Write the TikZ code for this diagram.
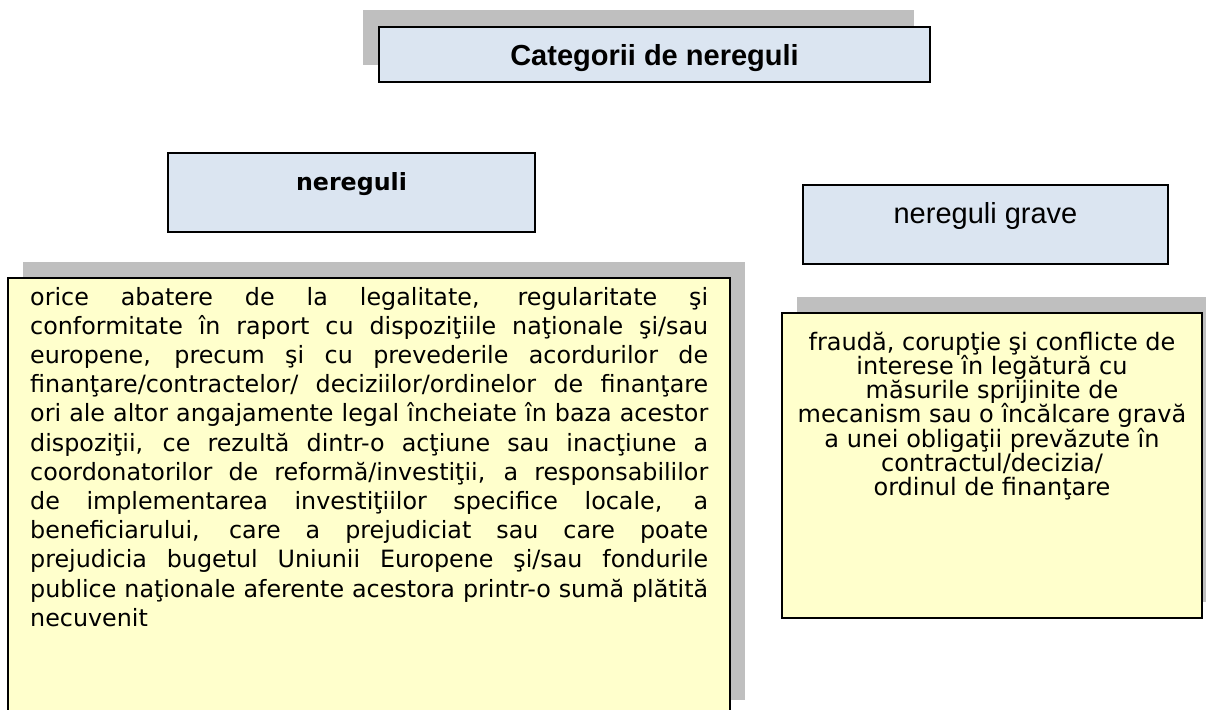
\documentclass[tikz,border=0pt]{standalone}
\usepackage{fontspec}
\setmainfont{Liberation Sans}
\newfontfamily\tah{DejaVu Sans}
\usetikzlibrary{shadows}
\definecolor{boxblue}{HTML}{DBE5F1}
\definecolor{boxyellow}{HTML}{FFFFCC}
\definecolor{shgray}{HTML}{BFBFBF}
\tikzset{
  bluebox/.style={draw=black, line width=1.6pt, fill=boxblue, inner sep=0pt},
  yellowbox/.style={draw=black, line width=1.8pt, fill=boxyellow, inner sep=0pt},
  shadowUL/.style={general shadow={fill=shgray, shadow xshift=-16pt, shadow yshift=17pt}},
  shadowUR/.style={general shadow={fill=shgray, shadow xshift=15pt, shadow yshift=16pt}},
  lbl/.style={inner sep=0pt, anchor=base}
}
\begin{document}
\begin{tikzpicture}[x=1pt,y=-1pt]
\clip (0,0) rectangle (1206,709);
\fill[white] (0,0) rectangle (1206,709);
% title
\node[bluebox, shadowUL, minimum width=551pt, minimum height=55pt] (title) at (654.5,54.5) {};
\node[lbl] (titletxt) at (654.5,65) {\fontsize{29}{32}\selectfont\bfseries Categorii de nereguli};
% nereguli
\node[bluebox, minimum width=367pt, minimum height=79pt] (ner) at (351.5,192.5) {};
\node[lbl] (nertxt) at (351.5,190) {\tah\bfseries\fontsize{23.7}{28}\selectfont nereguli};
% nereguli grave
\node[bluebox, minimum width=365pt, minimum height=79pt] (grave) at (985.5,224.5) {};
\node[lbl] (gravetxt) at (985.5,223) {\fontsize{29}{32}\selectfont nereguli grave};
% left yellow box
\node[yellowbox, shadowUR, minimum width=722pt, minimum height=438pt] (left) at (369,497) {};
\node[inner sep=0pt, anchor=base west] (lefttxt) at (30,305) {\parbox[t]{678pt}{\tah\fontsize{23.8}{29.2}\selectfont
orice abatere de la legalitate, regularitate şi\linebreak
conformitate în raport cu dispoziţiile naţionale şi/sau\linebreak
europene, precum şi cu prevederile acordurilor de\linebreak
finanţare/contractelor/ deciziilor/ordinelor de finanţare\linebreak
ori ale altor angajamente legal încheiate în baza acestor\linebreak
dispoziţii, ce rezultă dintr-o acţiune sau inacţiune a\linebreak
coordonatorilor de reformă/investiţii, a responsabililor\linebreak
de implementarea investiţiilor specifice locale, a\linebreak
beneficiarului, care a prejudiciat sau care poate\linebreak
prejudicia bugetul Uniunii Europene şi/sau fondurile\linebreak
publice naţionale aferente acestora printr-o sumă plătită\linebreak
necuvenit}};
% right yellow box
\node[yellowbox, shadowUR, minimum width=420pt, minimum height=305pt] (right) at (992,465.5) {};
\node[inner sep=0pt, anchor=base] (righttxt) at (992,350) {\parbox[t]{420pt}{\centering\tah\fontsize{24}{24.3}\selectfont
fraudă, corupţie şi conflicte de\\
interese în legătură cu\\
măsurile sprijinite de\\
mecanism sau o încălcare gravă\\
a unei obligaţii prevăzute în\\
contractul/decizia/\\
ordinul de finanţare}};
\end{tikzpicture}
\end{document}
